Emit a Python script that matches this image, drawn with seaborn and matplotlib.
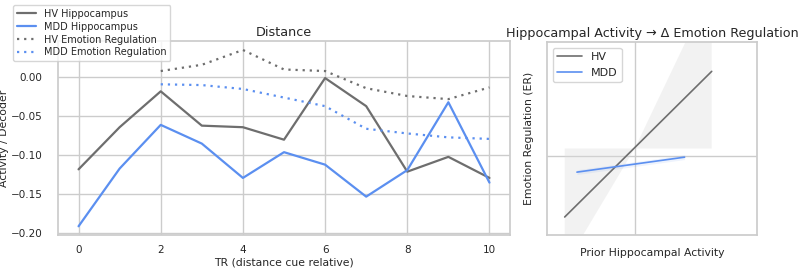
import numpy as np
import pandas as pd
import matplotlib
matplotlib.use("Agg")
import matplotlib.pyplot as plt
import seaborn as sns
from matplotlib.lines import Line2D

# ---- data: left panel ----
tr = [0, 1, 2, 3, 4, 5, 6, 7, 8, 9, 10]
hv_hippo = [-0.118, -0.064, -0.018, -0.062, -0.064, -0.080, -0.001, -0.037, -0.121, -0.102, -0.129]
mdd_hippo = [-0.191, -0.117, -0.061, -0.085, -0.129, -0.096, -0.112, -0.153, -0.119, -0.032, -0.135]
tr_er = [2, 3, 4, 5, 6, 7, 8, 9, 10]
hv_er = [0.008, 0.016, 0.035, 0.010, 0.008, -0.014, -0.024, -0.028, -0.013]
mdd_er = [-0.009, -0.010, -0.015, -0.026, -0.037, -0.066, -0.072, -0.077, -0.079]
x_ticks = [0, 2, 4, 6, 8, 10]
y_ticks = [0.0, -0.05, -0.10, -0.15, -0.20]
y_tick_labels = ["0.00", "−0.05", "−0.10", "−0.15", "−0.20"]

# ---- data: right panel (fitted lines and CI bands) ----
hv_fit_x = [-0.80, 0.88]
hv_fit_y = [-0.77, 1.08]
mdd_fit_x = [-0.66, 0.57]
mdd_fit_y = [-0.20, -0.01]
hv_band_x = [-0.80, 0.0, 0.88]
hv_band_lo = [-1.39, 0.10, 0.10]
hv_band_hi = [0.10, 0.10, 2.15]
mdd_band_x = [-0.66, 0.57]
mdd_band_lo = [-0.23, -0.04]
mdd_band_hi = [-0.17, 0.02]

HV_C = "#6e6e6e"
MDD_C = "#5b8ff0"
DOT = (0, (1, 2.2))

sns.set_theme(style="whitegrid")
plt.rcParams['font.family'] = ['DejaVu Sans']

fig = plt.figure(figsize=(8, 2.69), dpi=100)
ax1 = fig.add_axes([0.0725, 0.126, 0.565, 0.721])
ax2 = fig.add_axes([0.684, 0.126, 0.2625, 0.717])

df_h = pd.DataFrame({"TR": tr * 2, "val": hv_hippo + mdd_hippo,
                     "grp": ["HV Hippocampus"] * len(tr) + ["MDD Hippocampus"] * len(tr)})
df_e = pd.DataFrame({"TR": tr_er * 2, "val": hv_er + mdd_er,
                     "grp": ["HV Emotion Regulation"] * len(tr_er) + ["MDD Emotion Regulation"] * len(tr_er)})

sns.lineplot(data=df_h, x="TR", y="val", hue="grp",
             palette={"HV Hippocampus": HV_C, "MDD Hippocampus": MDD_C},
             linewidth=1.6, ax=ax1, legend=False)
sns.lineplot(data=df_e, x="TR", y="val", hue="grp",
             palette={"HV Emotion Regulation": HV_C, "MDD Emotion Regulation": MDD_C},
             linewidth=1.6, linestyle=DOT, ax=ax1, legend=False)

ax1.set_title("Distance", fontsize=9.2, pad=4)
ax1.set_xlabel("TR (distance cue relative)", fontsize=7.8, labelpad=2)
ax1.set_ylabel("Activity / Decoder", fontsize=7.8, labelpad=1.5)
ax1.set_xticks(x_ticks)
ax1.set_yticks(y_ticks)
ax1.set_yticklabels(y_tick_labels)
ax1.tick_params(axis="x", labelsize=7.5, pad=1)
ax1.tick_params(axis="y", labelsize=7.5, pad=5)

handles = [Line2D([], [], color=HV_C, lw=1.6),
           Line2D([], [], color=MDD_C, lw=1.6),
           Line2D([], [], color=HV_C, lw=1.6, ls=DOT),
           Line2D([], [], color=MDD_C, lw=1.6, ls=DOT)]
labels = ["HV Hippocampus", "MDD Hippocampus", "HV Emotion Regulation", "MDD Emotion Regulation"]
fig.legend(handles, labels, loc="upper left", bbox_to_anchor=(0.01, 1.0),
           fontsize=7, frameon=True, borderpad=0.4, labelspacing=0.3, handlelength=2.0)

# right panel
ax2.fill_between(hv_band_x, hv_band_lo, hv_band_hi, color="#dcdcdc", alpha=0.35, lw=0)
ax2.fill_between(mdd_band_x, mdd_band_lo, mdd_band_hi, color=MDD_C, alpha=0.1, lw=0)
df_f = pd.DataFrame({"x": hv_fit_x + mdd_fit_x, "y": hv_fit_y + mdd_fit_y,
                     "grp": ["HV"] * 2 + ["MDD"] * 2})
sns.lineplot(data=df_f, x="x", y="y", hue="grp", palette={"HV": HV_C, "MDD": MDD_C},
             linewidth=1.2, ax=ax2)
ax2.set_xlim(-1.0, 1.4)
ax2.set_ylim(-1.0, 1.45)
ax2.set_xticks([0])
ax2.set_yticks([0])
ax2.set_xticklabels([])
ax2.set_yticklabels([])
ax2.set_title("Hippocampal Activity → Δ Emotion Regulation", fontsize=9.2, pad=4)
ax2.set_xlabel("Prior Hippocampal Activity", fontsize=7.8, labelpad=0)
ax2.set_ylabel("Emotion Regulation (ER)", fontsize=7.8, labelpad=0)
ax2.legend(loc="upper left", fontsize=8, title=None, handlelength=2.2)

fig.savefig("out.png", dpi=100)
